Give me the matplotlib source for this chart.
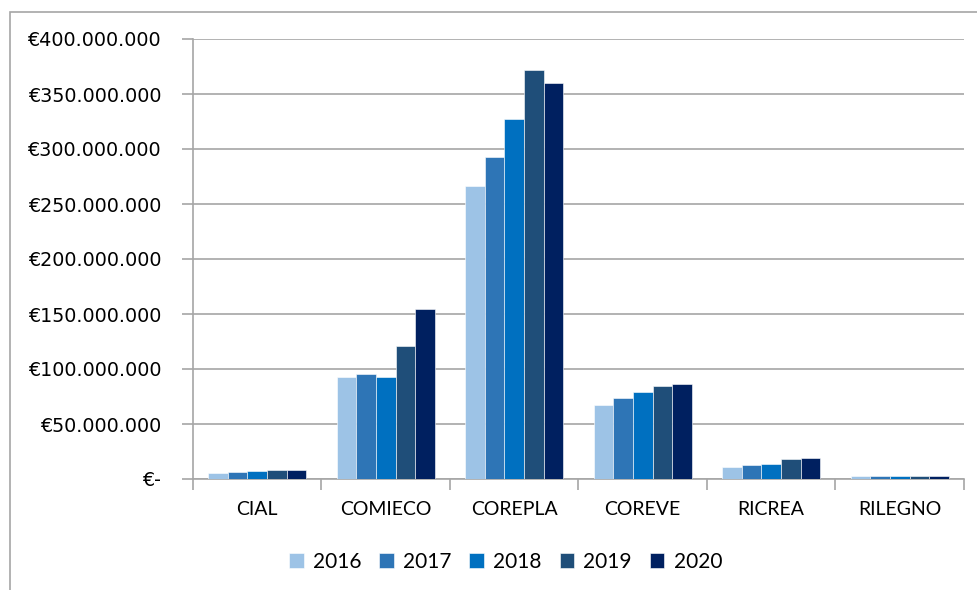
import matplotlib
matplotlib.use('Agg')
import matplotlib.pyplot as plt
import numpy as np
from matplotlib.patches import Rectangle
from matplotlib.ticker import FuncFormatter

consorzi = ['CIAL', 'COMIECO', 'COREPLA', 'COREVE', 'RICREA', 'RILEGNO']
anni = ['2016', '2017', '2018', '2019', '2020']

# valori in euro
v2016 = [5.7e6, 92.4e6, 266.4e6, 67.3e6, 11.2e6, 3.0e6]
v2017 = [6.0e6, 95.2e6, 292.7e6, 73.9e6, 12.7e6, 2.8e6]
v2018 = [7.0e6, 92.4e6, 327.5e6, 79.1e6, 13.9e6, 2.8e6]
v2019 = [8.5e6, 120.6e6, 371.5e6, 84.5e6, 17.9e6, 2.8e6]
v2020 = [8.5e6, 154.2e6, 359.7e6, 86.0e6, 19.4e6, 2.8e6]
serie = [v2016, v2017, v2018, v2019, v2020]

colori = ['#9DC3E6', '#2E75B6', '#0070C0', '#1F4E79', '#002060']

fig = plt.figure(figsize=(9.78, 5.9), dpi=100)
ax = fig.add_axes([193/978, 1-479/590, (964-193)/978, (479-39)/590])

# cornice del grafico (tagliata a destra e in basso)
fig.patches.append(Rectangle((10/978, -0.1), 1.2, 1.1 - 12/590, transform=fig.transFigure,
                             fill=False, edgecolor='#A6A6A6', linewidth=1.2))

x = np.arange(len(consorzi))
w = 0.76 / 5
for i, (vals, c) in enumerate(zip(serie, colori)):
    ax.bar(x - 0.38 + w*(i+0.5), vals, width=w, color=c, edgecolor='white',
           linewidth=0.4, label=anni[i], zorder=3)

ax.set_xlim(-0.5, len(consorzi)-0.5)
ax.set_ylim(0, 400e6)
ax.set_yticks(np.arange(0, 400e6+1, 50e6))

def euro(v, pos):
    if v == 0:
        return '€-'
    return '€' + f'{int(v):,}'.replace(',', '.')

ax.yaxis.set_major_formatter(FuncFormatter(euro))
ax.grid(axis='y', color='#A6A6A6', linewidth=1.2, zorder=0)

ax.set_xticks(x)
ax.set_xticklabels(consorzi, fontfamily='Lato', fontsize=14)
ax.set_xticks(np.arange(-0.5, len(consorzi)), minor=True)
ax.tick_params(axis='x', which='major', length=0, pad=16)
ax.tick_params(axis='x', which='minor', length=8, color='#A6A6A6', width=1.2)
ax.tick_params(axis='y', length=8, color='#A6A6A6', width=1.2, pad=15, labelsize=13.8)

for s in ['top', 'right']:
    ax.spines[s].set_visible(False)
for s in ['left', 'bottom']:
    ax.spines[s].set_color('#A6A6A6')
    ax.spines[s].set_linewidth(1.2)

leg = fig.legend(loc='center', bbox_to_anchor=(0.517, 1-562/590), ncol=5, frameon=False,
                 prop={'family': 'Lato', 'size': 15}, handlelength=0.7, handleheight=0.7,
                 handletextpad=0.45, columnspacing=0.85)

fig.savefig('out.png', dpi=100)
